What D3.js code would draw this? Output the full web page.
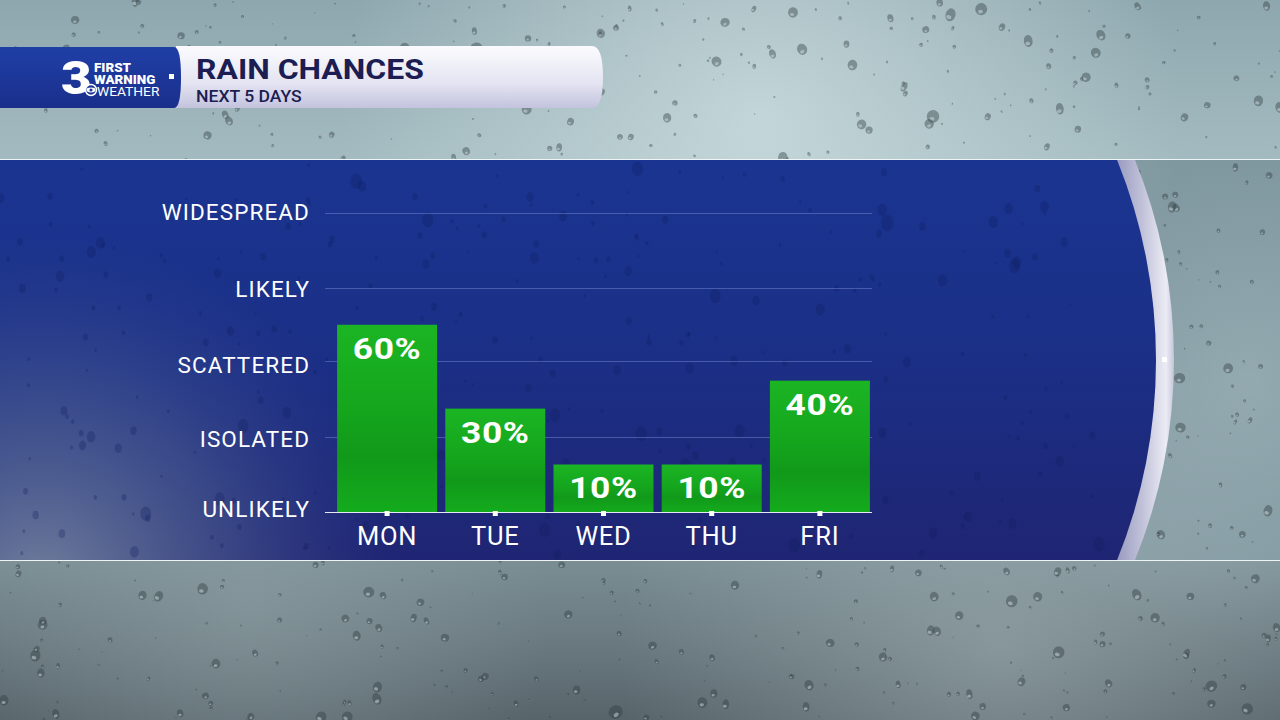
<!DOCTYPE html>
<html><head><meta charset="utf-8">
<script src="https://cdn.jsdelivr.net/npm/d3@7/dist/d3.min.js"></script>
<style>html,body{margin:0;padding:0;background:#000;overflow:hidden}svg{display:block}</style>
</head><body>
<svg id="c" width="1280" height="720"></svg>
<script>
// ---- data ----
const days = ["MON", "TUE", "WED", "THU", "FRI"];
const chances = [60, 30, 10, 10, 40];
const levelLabels = ["UNLIKELY", "ISOLATED", "SCATTERED", "LIKELY", "WIDESPREAD"];
const levelValues = [-7, 20, 47, 73, 100];
const titleText = "RAIN CHANCES";
const subtitleText = "NEXT 5 DAYS";

const svg = d3.select("#c");
const defs = svg.append("defs");

function lin(id, x1, y1, x2, y2, stops, units) {
  const g = defs.append("linearGradient").attr("id", id)
    .attr("x1", x1).attr("y1", y1).attr("x2", x2).attr("y2", y2);
  if (units) g.attr("gradientUnits", units);
  stops.forEach(s => g.append("stop").attr("offset", s[0]).attr("stop-color", s[1]).attr("stop-opacity", s[2] == null ? 1 : s[2]));
}
function rad(id, cx, cy, r, stops) {
  const g = defs.append("radialGradient").attr("id", id).attr("cx", cx).attr("cy", cy).attr("r", r)
    .attr("gradientUnits", "userSpaceOnUse");
  stops.forEach(s => g.append("stop").attr("offset", s[0]).attr("stop-color", s[1]).attr("stop-opacity", s[2] == null ? 1 : s[2]));
}

// background glass
lin("bgTop", 0, 0, 0, 160, [[0, "#8ea7ae"], [1, "#a3bbc0"]], "userSpaceOnUse");
lin("bgBot", 0, 560, 0, 720, [[0, "#7a8e94"], [0.5, "#6a7a80"], [1, "#57656b"]], "userSpaceOnUse");
rad("hiTop", 760, 120, 420, [[0, "#cfe0e2", 0.75], [1, "#cfe0e2", 0]]);
rad("hiBot", 1000, 650, 380, [[0, "#a6b5b9", 0.5], [1, "#a6b5b9", 0]]);
rad("hiBot2", 250, 610, 300, [[0, "#98a9ae", 0.45], [1, "#98a9ae", 0]]);
rad("hiRight", 1250, 380, 260, [[0, "#a7bbc1", 0.55], [1, "#a7bbc1", 0]]);

svg.append("rect").attr("width", 1280).attr("height", 720).attr("fill", "#7f959b");
svg.append("rect").attr("width", 1280).attr("height", 160).attr("fill", "url(#bgTop)");
svg.append("rect").attr("y", 560).attr("width", 1280).attr("height", 160).attr("fill", "url(#bgBot)");
svg.append("rect").attr("y", 160).attr("width", 1280).attr("height", 400).attr("fill", "#7c949c");
svg.append("rect").attr("width", 1280).attr("height", 720).attr("fill", "url(#hiTop)");
svg.append("rect").attr("width", 1280).attr("height", 720).attr("fill", "url(#hiBot)");
svg.append("rect").attr("width", 1280).attr("height", 720).attr("fill", "url(#hiBot2)");
svg.append("rect").attr("width", 1280).attr("height", 720).attr("fill", "url(#hiRight)");

// decorative droplets (seeded, deterministic texture only)
let seed = 12345;
function nxt() { seed = (seed * 1103515245 + 12345) % 2147483648; return seed / 2147483648; }
const dropG = svg.append("g");
for (let i = 0; i < 1100; i++) {
  const x = nxt() * 1280, y = nxt() * 720;
  const r = 0.8 + nxt() * nxt() * 6.5;
  const rot = nxt() * 60 - 30;
  const inPanel = y > 160 && y < 560 && x < 1130;
  if (inPanel) continue;
  const g = dropG.append("g").attr("transform", `translate(${x},${y}) rotate(${rot})`);
  g.append("ellipse").attr("rx", r * (0.6 + nxt() * 0.5)).attr("ry", r)
    .attr("fill", "#2f3d43").attr("opacity", 0.42);
  g.append("ellipse").attr("cx", -r * 0.15).attr("cy", r * 0.4)
    .attr("rx", r * 0.4).attr("ry", r * 0.3).attr("fill", "#dfe9eb").attr("opacity", 0.45);
}

// blue panel
const cx = 640, cy = 360;
defs.append("clipPath").attr("id", "band").append("rect").attr("x", 0).attr("y", 160).attr("width", 1280).attr("height", 400);
lin("panel", 0, 160, 0, 560, [[0, "#1a3591"], [0.5, "#1b2f86"], [1, "#1f2573"]], "userSpaceOnUse");
rad("panelLeft", 40, 590, 360, [[0, "#8798a8", 0.8], [0.55, "#60739a", 0.4], [1, "#3b4c90", 0]]);
lin("rim", 1110, 0, 1176, 0, [[0, "#8e90b8"], [0.5, "#c2c3da"], [0.85, "#ececf5"], [1, "#b9bdd0"]], "userSpaceOnUse");

const bandG = svg.append("g").attr("clip-path", "url(#band)");
bandG.append("ellipse").attr("cx", cx).attr("cy", cy).attr("rx", 534).attr("ry", 533).attr("fill", "url(#rim)");
bandG.append("rect").attr("x", 0).attr("y", 160).attr("width", cx).attr("height", 400).attr("fill", "url(#panel)");
bandG.append("ellipse").attr("cx", cx).attr("cy", cy).attr("rx", 516).attr("ry", 525).attr("fill", "url(#panel)");
bandG.append("rect").attr("x", 0).attr("y", 160).attr("width", 700).attr("height", 400).attr("fill", "url(#panelLeft)");
// faint drops inside the panel
seed = 777;
for (let i = 0; i < 300; i++) {
  const x = nxt() * 1100, y = 165 + nxt() * 390;
  const r = 1.5 + nxt() * nxt() * 7;
  const dx = x - cx, dy = y - cy;
  if ((dx * dx) / (510 * 510) + (dy * dy) / (520 * 520) > 1 && x > cx) continue;
  bandG.append("ellipse").attr("cx", x).attr("cy", y).attr("rx", r * 0.75).attr("ry", r)
    .attr("fill", "#0e1c5e").attr("opacity", 0.28);
}
svg.append("rect").attr("x", 1162).attr("y", 357).attr("width", 5).attr("height", 5).attr("fill", "#ffffff");

// band edge lines
svg.append("line").attr("x1", 0).attr("x2", 1280).attr("y1", 159.5).attr("y2", 159.5).attr("stroke", "#eef3f5").attr("stroke-width", 1.2);
svg.append("line").attr("x1", 0).attr("x2", 1280).attr("y1", 560.5).attr("y2", 560.5).attr("stroke", "#eef3f5").attr("stroke-width", 1.2);

// ---- header ----
lin("hdrWhite", 0, 0, 0, 1, [[0, "#fbfbfe"], [0.6, "#e4e4f2"], [1, "#c3c3de"]]);
lin("hdrBlue", 0, 0, 0, 1, [[0, "#1f3fa6"], [1, "#1a2f8c"]]);
const hdr = svg.append("g");
hdr.append("path").attr("d", "M176,46 L592,46 Q603,46 603,77 Q603,108 592,108 L176,108 Z").attr("fill", "url(#hdrWhite)");
hdr.append("path").attr("d", "M0,47 L174,47 Q181,47 181,77.5 Q181,108 174,108 L0,108 Z").attr("fill", "url(#hdrBlue)");
// logo
hdr.append("text").attr("transform", "translate(61,94) scale(1.15,1)").attr("font-family", "Roboto").attr("font-weight", 900)
  .attr("font-size", 46).attr("fill", "#fff").text("3");
hdr.append("text").attr("transform", "translate(94,72) scale(1.12,1)").attr("font-family", "Roboto").attr("font-weight", 900)
  .attr("font-size", 12).attr("fill", "#fff").text("FIRST");
hdr.append("text").attr("transform", "translate(94,84) scale(1.12,1)").attr("font-family", "Roboto").attr("font-weight", 900)
  .attr("font-size", 12).attr("fill", "#fff").text("WARNING");
hdr.append("rect").attr("x", 169).attr("y", 74).attr("width", 5).attr("height", 5).attr("fill", "#fff");
hdr.append("circle").attr("cx", 91).attr("cy", 90).attr("r", 5.5).attr("fill", "#1c3596").attr("stroke", "#fff").attr("stroke-width", 1.5);
hdr.append("ellipse").attr("cx", 91).attr("cy", 90).attr("rx", 4.5).attr("ry", 2.4).attr("fill", "#fff");
hdr.append("circle").attr("cx", 91).attr("cy", 90).attr("r", 1.6).attr("fill", "#1c3596");
hdr.append("text").attr("transform", "translate(97,96) scale(1.1,1)").attr("font-family", "Roboto").attr("font-weight", 400)
  .attr("font-size", 12.5).attr("fill", "#fff").text("WEATHER");
// title
hdr.append("text").attr("transform", "translate(196,79) scale(1.12,1)").attr("font-family", "Roboto").attr("font-weight", 700)
  .attr("font-size", 28.5).attr("fill", "#1c1d52").text(titleText);
hdr.append("text").attr("transform", "translate(196,102) scale(1.1,1)").attr("font-family", "Roboto").attr("font-weight", 500)
  .attr("font-size", 16).attr("fill", "#1c1d52").text(subtitleText);

// ---- chart ----
const x = d3.scaleBand().domain(days).range([333, 874]).paddingInner(0.076).paddingOuter(0.038);
const y = d3.scaleLinear().domain([levelValues[0], levelValues[levelValues.length - 1]]).range([512, 213]);
const gridX0 = 325, gridX1 = 872;

const chart = svg.append("g");
// gridlines
chart.append("g").selectAll("line").data(levelValues.slice(1)).join("line")
  .attr("x1", gridX0).attr("x2", gridX1)
  .attr("y1", d => Math.round(y(d)) + 0.5).attr("y2", d => Math.round(y(d)) + 0.5)
  .attr("stroke", "#7f93d8").attr("stroke-opacity", 0.45).attr("stroke-width", 1);

// y labels
const yAxis = d3.axisLeft(y).tickValues(levelValues).tickFormat((d, i) => levelLabels[i]).tickSize(0).tickPadding(0);
const yg = chart.append("g").attr("transform", "translate(310,0)").call(yAxis);
yg.select(".domain").remove();
yg.selectAll("text").attr("fill", "#fff").attr("font-family", "Roboto").attr("font-size", 22.5)
  .attr("letter-spacing", 1.1).attr("dy", "0.36em").attr("dx", 0);
yg.selectAll(".tick").attr("transform", (d, i) => `translate(0,${y(d) + [-3, 2, 4, 0, -1][i]})`);

// bars
lin("barG", 0, 0, 0, 1, [[0, "#1bb524"], [0.45, "#15a61d"], [0.7, "#11991a"], [1, "#14ab1d"]]);
chart.append("g").selectAll("rect").data(days).join("rect")
  .attr("x", d => x(d)).attr("width", x.bandwidth())
  .attr("y", (d, i) => y(chances[i])).attr("height", (d, i) => y(levelValues[0]) - y(chances[i]))
  .attr("fill", "url(#barG)");

// value labels
chart.append("g").selectAll("text").data(days).join("text")
  .attr("transform", (d, i) => `translate(${x(d) + x.bandwidth() / 2},${y(chances[i]) + 34}) scale(1.2,1)`)
  .attr("text-anchor", "middle").attr("font-family", "Roboto").attr("font-weight", 700)
  .attr("font-size", 29.5).attr("fill", "#fff").attr("letter-spacing", 0.5)
  .text((d, i) => chances[i] + "%");

// baseline + ticks
const xAxis = d3.axisBottom(x).tickSize(0).tickPadding(0);
const xg = chart.append("g").attr("transform", `translate(0,${y(levelValues[0])})`).call(xAxis);
xg.select(".domain").attr("d", `M${gridX0},0.5H${gridX1}`).attr("stroke", "#e6e8f4").attr("stroke-width", 1.2);
xg.selectAll(".tick").append("rect").attr("x", -2.5).attr("y", -1).attr("width", 5).attr("height", 5).attr("fill", "#fff");
xg.selectAll("text").attr("fill", "#fff").attr("font-family", "Roboto").attr("font-size", 25.5)
  .attr("y", 33).attr("dy", 0).attr("letter-spacing", 0.8);
</script>
</body></html>
